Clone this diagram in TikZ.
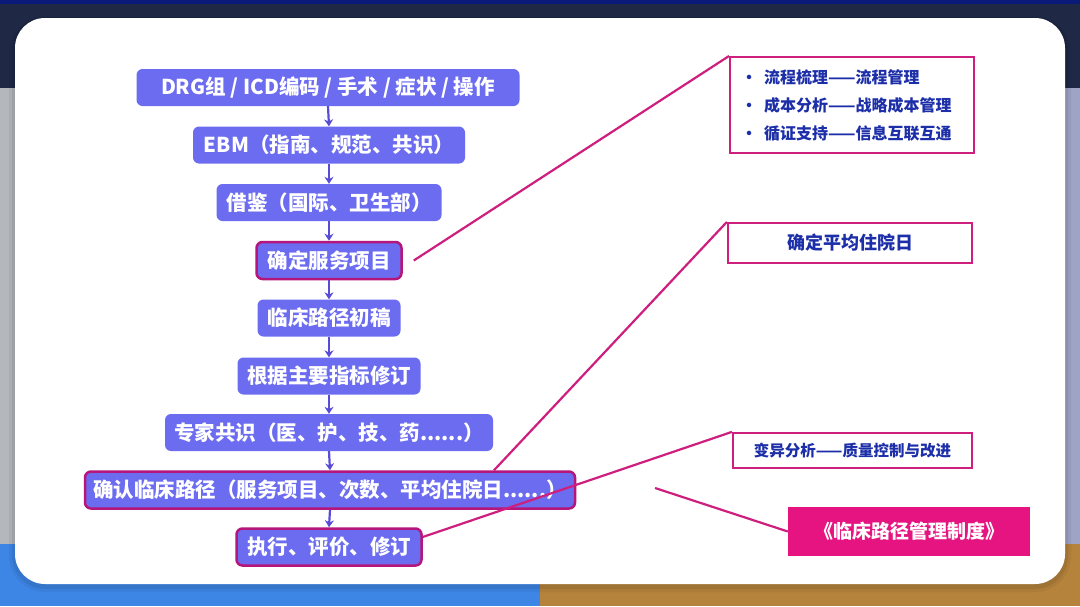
\documentclass[tikz,border=0pt]{standalone}
\usepackage{fontspec}
\setmainfont{Noto Sans CJK SC}
\usetikzlibrary{arrows.meta,calc}
\definecolor{flowblue}{RGB}{108,108,240}
\definecolor{arrowblue}{RGB}{88,76,214}
\definecolor{mag}{RGB}{206,30,126}
\definecolor{magdark}{RGB}{180,22,124}
\definecolor{magfill}{RGB}{230,20,128}
\definecolor{navy}{RGB}{10,26,120}
\definecolor{slate}{RGB}{31,41,70}
\definecolor{greyleft}{RGB}{180,184,188}
\definecolor{greyright}{RGB}{158,164,198}
\definecolor{botblue}{RGB}{62,134,230}
\definecolor{botgold}{RGB}{182,131,60}
\definecolor{textblue}{RGB}{28,46,168}
\begin{document}
\begin{tikzpicture}[x=1pt,y=-1pt,
  flow/.style={fill=flowblue, rounded corners=6pt, text=white,
    font=\bfseries\fontsize{20.5}{24}\selectfont, minimum height=37pt, inner sep=0pt},
  hl/.style={draw=magdark, line width=2.5pt},
  flowarrow/.style={draw=arrowblue, line width=2.2pt, -{Stealth[length=7pt,width=9pt]}},
  link/.style={draw=mag, line width=2.2pt},
  infobox/.style={draw=mag, line width=2.2pt, fill=white, text=textblue, inner sep=0pt}
]
% background
\fill[greyleft] (0,0) rectangle (540,606);
\fill[greyright] (540,0) rectangle (1080,606);
\fill[slate] (0,0) rectangle (1080,88);
\fill[navy] (0,0) rectangle (1080,4);
\fill[botblue] (0,544) rectangle (540,606);
\fill[botgold] (540,544) rectangle (1080,606);
% card shadow
\fill[black, opacity=0.05, rounded corners=36pt] (9,16) rectangle (1071,592);
\fill[black, opacity=0.07, rounded corners=33pt] (12,17) rectangle (1068,589);
% card
\fill[white, rounded corners=30pt] (15,18) rectangle (1065,584);

% flow nodes
\node[flow, minimum width=383pt] (n1) at (328,87.5) {DRG组 / ICD编码 / 手术 / 症状 / 操作};
\node[flow, minimum width=272pt] (n2) at (329,145) {EBM（指南、规范、共识）};
\node[flow, minimum width=225pt] (n3) at (329,202.5) {借鉴（国际、卫生部）};
\node[flow, hl, minimum width=145pt] (n4) at (329,260.5) {确定服务项目};
\node[flow, minimum width=143pt] (n5) at (329,318) {临床路径初稿};
\node[flow, minimum width=183pt] (n6) at (329,376) {根据主要指标修订};
\node[flow, minimum width=328pt] (n7) at (329,432.5) {专家共识（医、护、技、药......）};
\node[flow, hl, minimum width=490pt] (n8) at (330,490) {确认临床路径（服务项目、次数、平均住院日......）};
\node[flow, hl, minimum width=185pt] (n9) at (329,547) {执行、评价、修订};

\foreach \a/\b in {n1/n2,n2/n3,n3/n4,n4/n5,n5/n6,n6/n7,n7/n8,n8/n9}
  \draw[flowarrow] (\a.south) -- (\b.north);

% right boxes
\node[infobox, anchor=north west, minimum width=244pt, minimum height=96pt,
  text width=222pt, inner xsep=11pt, align=left,
  font=\bfseries\fontsize{16}{28}\selectfont] (A) at (729,56)
  {\makebox[23pt][l]{•}流程梳理——流程管理\\
   \makebox[23pt][l]{•}成本分析——战略成本管理\\
   \makebox[23pt][l]{•}循证支持——信息互联互通};
\node[infobox, minimum width=244pt, minimum height=40pt,
  font=\bfseries\fontsize{18}{20}\selectfont] (B) at (850,243) {确定平均住院日};
\node[infobox, minimum width=239pt, minimum height=35pt,
  font=\bfseries\fontsize{15.5}{18}\selectfont] (C) at (852.5,450.5) {变异分析——质量控制与改进};
\node[fill=magfill, text=white, minimum width=242pt, minimum height=49pt, inner sep=0pt,
  font=\bfseries\fontsize{19}{22}\selectfont] (D) at (909,531.5) {《临床路径管理制度》};

% links
\draw[link] ($(n4.east)+(11,0)$) -- (A.north west);
\draw[link] ($(n8.north west)!0.833!(n8.north east)$) -- (B.north west);
\draw[link] ($(n9.east)+(0,-10)$) -- (C.north west);
\coordinate (f) at (655,488);
\draw[link] (f) -- (D.west);
\end{tikzpicture}
\end{document}
